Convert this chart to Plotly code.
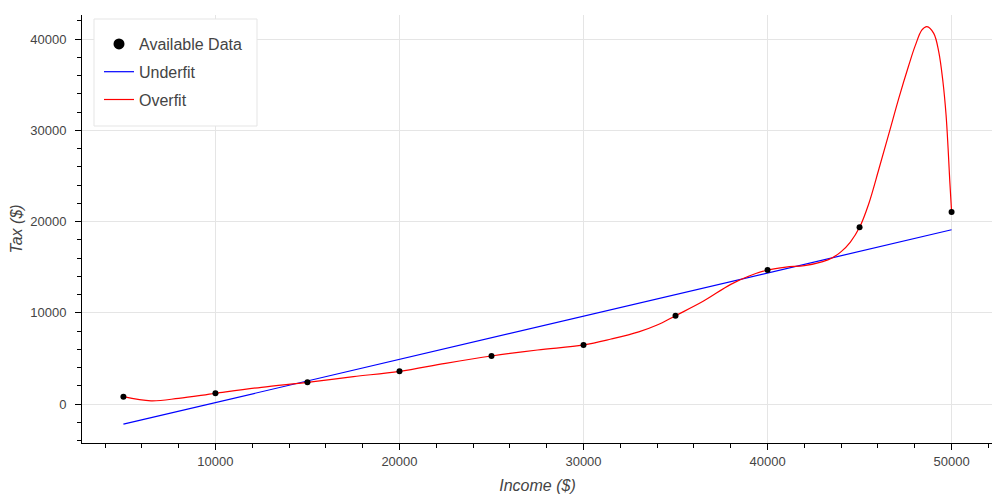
import numpy as np
import plotly.graph_objects as go

# Available data points
income = [5000, 10000, 15000, 20000, 25000, 30000, 35000, 40000, 45000, 50000]
tax = [800, 1170, 2380, 3580, 5260, 6470, 9680, 14680, 19360, 21040]

# Overfit curve, values
over_x = [5000, 6500, 8000, 10000, 12500, 15000, 17500, 20000, 22500, 25000,
          27500, 30000, 31500, 33000, 34000, 35000, 36500, 38000, 39000, 40000,
          41000, 42000, 43000, 43500, 44000, 44500, 45000, 45500, 46050, 46590,
          47130, 47670, 48030, 48390, 48660, 49030, 49300, 49530, 49700, 49810,
          49900, 50000]
over_y = [800, 350, 620, 1170, 1830, 2380, 3000, 3580, 4460, 5260,
          5920, 6470, 7120, 7900, 8650, 9680, 11250, 13110, 14030, 14680,
          15010, 15160, 15600, 16000, 16700, 17750, 19360, 21950, 25750, 29600,
          33500, 37100, 39300, 40990, 41350, 40620, 38610, 35320, 31670, 28020,
          24500, 21080]

x_arr = np.array(income, dtype=float)
y_arr = np.array(tax, dtype=float)

# Underfit: straight-line least-squares fit of the data
under = np.polynomial.Polynomial.fit(x_arr, y_arr, 1)
ux = np.array([x_arr.min(), x_arr.max()])

FONT = "Liberation Sans, Arial, Helvetica, sans-serif"

fig = go.Figure()
fig.add_trace(go.Scatter(x=ux, y=under(ux), mode="lines", name="Underfit",
                         line=dict(color="blue", width=1.2),
                         legendrank=2, legendgroup="u"))
fig.add_trace(go.Scatter(x=over_x, y=over_y, mode="lines", name="Overfit",
                         line=dict(color="red", width=1.2, shape="spline", smoothing=1.0),
                         legendrank=3, legendgroup="o"))
fig.add_trace(go.Scatter(x=income, y=tax, mode="markers", name="Available Data",
                         marker=dict(color="black", size=6), showlegend=False))
fig.add_trace(go.Scatter(x=[None], y=[None], mode="markers", name="Available Data",
                         marker=dict(color="black", size=11), legendrank=1, legendgroup="d"))

axis_common = dict(
    showgrid=True, gridcolor="#e5e5e5", gridwidth=1, zeroline=False,
    showline=True, linecolor="black", linewidth=1,
    ticks="outside", ticklen=6, tickcolor="black", tickwidth=1,
    tickformat="d", dtick=10000, automargin=False,
    tickfont=dict(family=FONT, size=13, color="#444"),
    minor=dict(dtick=2000, ticks="outside", ticklen=4, tickcolor="black", showgrid=False),
)

# page body margin offsets the figure by 8px; positions below are screen pixels
OFF = 8
W, H = 992, 492
L, R, T, B = 82 - OFF, 993 - OFF, 15 - OFF, 443 - OFF
PW, PH = R - L, B - T

def px(xp):
    return (xp - OFF - L) / PW

def py(yp):
    return (B - (yp - OFF)) / PH

fig.update_layout(
    width=W, height=H,
    margin=dict(l=L, r=W - R, t=T, b=H - B, pad=0),
    paper_bgcolor="white", plot_bgcolor="white",
    font=dict(family=FONT, color="#444"),
    xaxis=dict(range=[2750, 52250], tick0=0,
               title=dict(text="<i>Income ($)</i>", font=dict(family=FONT, size=16, color="#444"), standoff=12),
               **axis_common),
    yaxis=dict(range=[-4274, 42630], tick0=0, ticklabelstandoff=6,
               title=dict(text="<i>Tax ($)</i>", font=dict(family=FONT, size=16, color="#444"), standoff=4),
               **axis_common),
    legend=dict(x=px(99), y=py(27), xanchor="left", yanchor="top",
                bgcolor="rgba(0,0,0,0)", borderwidth=0,
                font=dict(family=FONT, size=16, color="#444"),
                tracegroupgap=4, itemwidth=30),
    shapes=[dict(type="rect", xref="paper", yref="paper",
                 x0=px(94), x1=px(257), y0=py(126), y1=py(19),
                 line=dict(color="#e5e5e5", width=1), fillcolor="white", layer="above")],
    showlegend=True,
)

fig.write_html("out.html")
